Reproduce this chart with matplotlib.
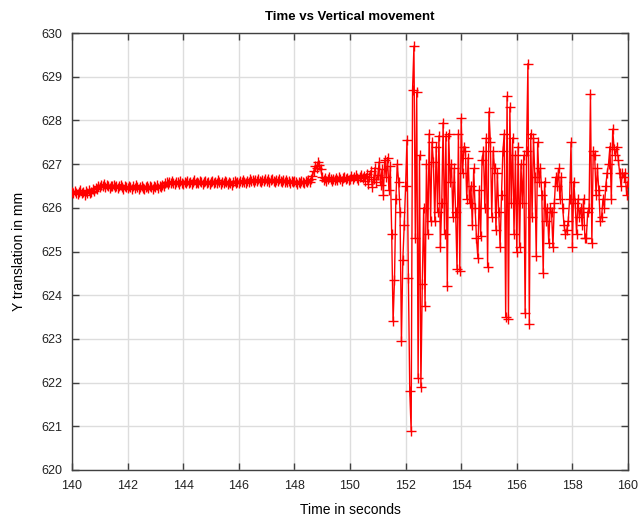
import numpy as np
import matplotlib
matplotlib.use("Agg")
import matplotlib.pyplot as plt

plt.rcParams['font.family'] = ['Liberation Sans', 'DejaVu Sans']

# Sampled vertical position (mm), one sample every 0.05 s starting at 140 s
t_start = 140.0
dt = 0.05

y_steady = [
    626.36, 626.33, 626.38, 626.35, 626.31, 626.37, 626.40, 626.34, 626.36, 626.30,
    626.38, 626.35, 626.41, 626.33, 626.37, 626.44, 626.39, 626.46, 626.42, 626.49,
    626.47, 626.52, 626.50, 626.55, 626.48, 626.53, 626.50, 626.46, 626.51, 626.49,
    626.52, 626.47, 626.50, 626.45, 626.49, 626.53, 626.48, 626.44, 626.50, 626.47,
    626.45, 626.50, 626.47, 626.43, 626.49, 626.46, 626.52, 626.48, 626.44, 626.47,
    626.50, 626.46, 626.43, 626.48, 626.51, 626.45, 626.49, 626.47, 626.44, 626.50,
    626.48, 626.52, 626.46, 626.50, 626.47, 626.53, 626.50, 626.56, 626.58, 626.54,
    626.59, 626.56, 626.61, 626.57, 626.54, 626.60, 626.58, 626.55, 626.61, 626.57,
    626.55, 626.60, 626.57, 626.62, 626.56, 626.59, 626.54, 626.60, 626.63, 626.57,
    626.60, 626.56, 626.61, 626.58, 626.54, 626.59, 626.62, 626.57, 626.60, 626.55,
    626.58, 626.61, 626.56, 626.60, 626.57, 626.63, 626.59, 626.55, 626.60, 626.57,
    626.62, 626.58, 626.55, 626.60, 626.57, 626.53, 626.58, 626.61, 626.56, 626.59,
    626.57, 626.62, 626.59, 626.64, 626.60, 626.57, 626.62, 626.59, 626.65, 626.61,
    626.63, 626.59, 626.64, 626.61, 626.66, 626.62, 626.59, 626.64, 626.61, 626.66,
    626.62, 626.65, 626.60, 626.63, 626.67, 626.62, 626.59, 626.64, 626.61, 626.65,
    626.61, 626.58, 626.63, 626.60, 626.64, 626.59, 626.62, 626.57, 626.61, 626.58,
    626.62, 626.58, 626.55, 626.60, 626.57, 626.62, 626.59, 626.56, 626.61, 626.58,
    626.63, 626.60, 626.66, 626.72, 626.85, 626.95, 626.90, 627.05, 626.98, 626.88,
    626.70, 626.64, 626.68, 626.62, 626.66, 626.70, 626.65, 626.61, 626.67, 626.63,
    626.68, 626.64, 626.70, 626.66, 626.62, 626.68, 626.71, 626.65, 626.69, 626.64,
    626.67, 626.72, 626.66, 626.70, 626.74, 626.68, 626.64, 626.71, 626.76, 626.69,
    626.73,
]

y_unsteady = [
    626.62, 626.78, 626.55, 626.70, 626.85, 626.48, 626.66, 626.92, 626.60, 626.74,
    627.05, 626.52, 626.88, 626.30, 627.10, 626.70, 627.15, 626.40, 626.95, 625.40,
    623.40, 624.35, 626.20, 627.00, 626.60, 625.90, 622.95, 624.80, 625.60, 626.50,
    627.55, 624.40, 621.80, 620.90, 628.70, 629.70, 625.30, 628.65, 622.10, 627.20,
    621.90, 624.25, 626.00, 623.75, 627.00, 625.40, 627.70, 625.70, 627.50, 627.05,
    625.70, 627.40, 625.90, 627.65, 625.10, 626.10, 627.95, 625.40, 627.65, 624.20,
    627.70, 626.60, 627.00, 625.80, 626.90, 625.90, 624.60, 627.70, 624.55, 628.05,
    626.80, 627.40, 627.30, 626.20, 627.15, 626.10, 626.50, 625.60, 626.90, 626.00,
    625.30, 624.85, 626.40, 625.35, 627.10, 627.30, 626.00, 627.60, 624.65, 628.20,
    627.50, 625.80, 627.30, 626.90, 625.50, 626.80, 625.90, 625.10, 626.30, 627.30,
    627.70, 623.50, 628.55, 623.45, 628.30, 626.10, 627.60, 625.40, 627.20, 625.00,
    627.40, 625.10, 627.00, 626.10, 627.20, 623.60, 627.30, 629.30, 623.35, 627.70,
    625.80, 627.60, 626.70, 624.90, 627.50, 626.60, 626.90, 626.30, 624.50, 626.60,
    625.70, 626.00, 625.20, 626.00, 625.90, 625.10, 626.10, 626.70, 626.50, 626.90,
    626.20, 626.70, 626.00, 625.60, 625.40, 625.50, 625.70, 626.20, 627.50, 625.10,
    626.60, 626.10, 625.40, 626.20, 625.80, 626.00, 625.60, 626.20, 625.30, 625.30,
    625.90, 626.00, 628.60, 625.20, 627.30, 627.20, 626.30, 626.90, 626.40, 625.70,
    625.80, 626.20, 626.00, 626.50, 626.80, 627.00, 627.40, 626.20, 627.80, 627.35,
    627.20, 627.40, 627.10, 626.80, 626.50, 626.80, 626.70, 626.80, 626.30, 626.60,
]

x_ticks = [140, 142, 144, 146, 148, 150, 152, 154, 156, 158, 160]
y_ticks = [620, 621, 622, 623, 624, 625, 626, 627, 628, 629, 630]

y = np.array(y_steady + y_unsteady)
t = t_start + dt * np.arange(len(y))

fig = plt.figure(figsize=(6.38, 5.22), dpi=100)
ax = fig.add_axes([72 / 638, 1 - 470 / 522, 556 / 638, 437 / 522])

ax.plot(t, y, color='#ff0000', linewidth=1.0, marker='+',
        markersize=7.5, markeredgewidth=1.0, zorder=3)

ax.set_xlim(140, 160)
ax.set_ylim(620, 630)
ax.set_xticks(x_ticks)
ax.set_yticks(y_ticks)
ax.grid(True, color='#dddddd', linewidth=1.0, zorder=0)
ax.tick_params(direction='in', length=5, width=1, color='#404040',
               top=True, right=True, labelsize=9, labelcolor='#222222', pad=7)
for s in ax.spines.values():
    s.set_color('#404040')
    s.set_linewidth(1.0)

ax.set_title('Time vs Vertical movement', fontsize=9.5, fontweight='bold', pad=9)
ax.set_xlabel('Time in seconds', fontsize=10, labelpad=8)
ax.set_ylabel('Y translation in mm', fontsize=10, labelpad=11)

fig.savefig('out.png', dpi=100)
